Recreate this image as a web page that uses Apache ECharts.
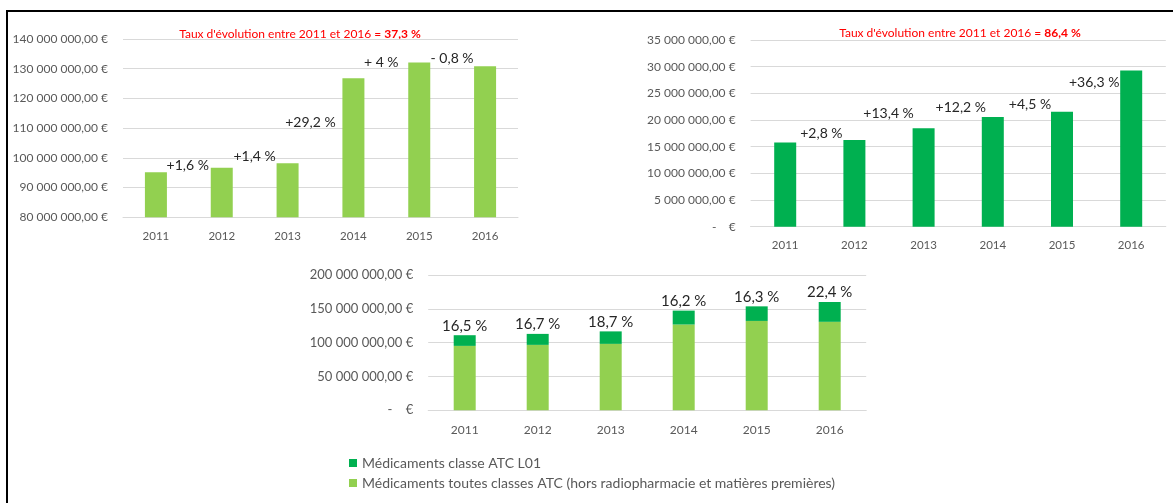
<!DOCTYPE html>
<html lang="fr">
<head>
<meta charset="utf-8">
<title>Médicaments 2011-2016</title>
<script src="https://cdn.jsdelivr.net/npm/echarts@6/dist/echarts.min.js"></script>
<style>
    html, body { margin: 0; padding: 0; background: #fff; overflow: hidden; }
    #chart { width: 1173px; height: 503px; }
    /* cadre noir en haut et à gauche, comme la capture */
    #cadre {
        position: absolute; left: 6px; top: 10px;
        width: 1167px; height: 493px; box-sizing: border-box;
        border-top: 2px solid #000; border-left: 2px solid #000;
        pointer-events: none;
    }
</style>
</head>
<body>
<div id="chart"></div>
<div id="cadre"></div>
<script>
// ==========================================
// Données
// ==========================================
var annees = ['2011', '2012', '2013', '2014', '2015', '2016'];
// Médicaments toutes classes ATC (hors radiopharmacie et matières premières), en €
var toutesClasses = [95200000, 96700000, 98200000, 126800000, 132100000, 130800000];
// Médicaments classe ATC L01, en €
var classeL01 = [15800000, 16250000, 18450000, 20570000, 21560000, 29300000];
// taux d'évolution d'une année sur l'autre
var evolToutes = ['', '+1,6 %', '+1,4 %', '+29,2 %', '+ 4 %', '- 0,8 %'];
var evolL01 = ['', '+2,8 %', '+13,4 %', '+12,2 %', '+4,5 %', '+36,3 %'];
// part de L01
var partL01 = ['16,5 %', '16,7 %', '18,7 %', '16,2 %', '16,3 %', '22,4 %'];
var tauxToutes = '37,3 %';
var tauxL01 = '86,4 %';
// graduations : min, max, pas
var ticksToutes = [80000000, 140000000, 10000000];
var ticksL01 = [0, 35000000, 5000000];
var ticksTotal = [0, 200000000, 50000000];

// décalage manuel des étiquettes (placées à la main dans le classeur)
var decalToutes = [[0, 0], [-34, 5], [-33, 0], [-43, 51], [-38, 7], [-33, -1]];
var decalL01 = [[0, 0], [-33, 0], [-35, -8], [-32, -2], [-32, 0], [-37, 19]];

var nomL01 = 'Médicaments classe ATC L01';
var nomToutes = 'Médicaments toutes classes ATC (hors radiopharmacie et matières premières)';

var vertClair = '#92d050';
var vertFonce = '#00b050';
var police = 'Lato, "Open Sans", sans-serif';

function euros(v) {
    if (v === 0) return '-    €';
    return String(Math.round(v)).replace(/\B(?=(\d{3})+(?!\d))/g, ' ') + ',00 €';
}

function axeX(i, marge, taille) {
    return {
        type: 'category',
        gridIndex: i,
        data: annees,
        axisTick: { show: false },
        axisLine: { lineStyle: { color: '#d9d9d9' } },
        axisLabel: { color: '#595959', fontSize: taille, margin: marge, fontFamily: police }
    };
}

function axeY(i, ticks, taille) {
    return {
        type: 'value',
        gridIndex: i,
        min: ticks[0],
        max: ticks[1],
        interval: ticks[2],
        axisLabel: { color: '#595959', fontSize: taille, margin: 15, fontFamily: police, formatter: euros },
        splitLine: { lineStyle: { color: '#d9d9d9' } }
    };
}

function titre(x, y, taux) {
    return {
        type: 'text',
        x: x,
        y: y,
        style: {
            text: "Taux d'évolution entre 2011 et 2016 = {b|" + taux + '}',
            fill: '#ff0000',
            fontSize: 12,
            fontFamily: police,
            align: 'center',
            verticalAlign: 'middle',
            rich: {
                b: { fill: '#ff0000', fontSize: 12, fontWeight: 'bold', fontFamily: police }
            }
        }
    };
}

var chartDom = document.getElementById('chart');
var myChart = echarts.init(chartDom);
var option;

option = {
    animation: false,
    textStyle: { fontFamily: police },
    grid: [
        { left: 123, top: 39, width: 395, height: 178.3 },
        { left: 750.6, top: 40, width: 415.2, height: 186.7 },
        { left: 428.2, top: 275, width: 438, height: 135.3 }
    ],
    xAxis: [axeX(0, 13, 11.5), axeX(1, 12.5, 11.5), axeX(2, 14, 12)],
    yAxis: [axeY(0, ticksToutes, 12), axeY(1, ticksL01, 12), axeY(2, ticksTotal, 13)],
    graphic: [titre(300, 34, tauxToutes), titre(960, 33, tauxL01)],
    legend: {
        data: [nomL01, nomToutes],
        orient: 'vertical',
        left: 344,
        top: 451,
        icon: 'rect',
        itemWidth: 8,
        itemHeight: 8,
        itemGap: 6,
        textStyle: { color: '#595959', fontSize: 14, fontFamily: police }
    },
    series: [
        {
            // évolution toutes classes
            name: 'Toutes classes - évolution',
            type: 'bar',
            xAxisIndex: 0,
            yAxisIndex: 0,
            barWidth: 22,
            itemStyle: { color: vertClair },
            data: toutesClasses.map(function (v, i) {
                return { value: v, label: { offset: decalToutes[i] } };
            }),
            label: {
                show: true,
                position: 'top',
                distance: 0,
                fontSize: 14,
                color: '#262626',
                formatter: function (p) { return evolToutes[p.dataIndex]; }
            }
        },
        {
            // évolution classe L01
            name: 'L01 - évolution',
            type: 'bar',
            xAxisIndex: 1,
            yAxisIndex: 1,
            barWidth: 22,
            itemStyle: { color: vertFonce },
            data: classeL01.map(function (v, i) {
                return { value: v, label: { offset: decalL01[i] } };
            }),
            label: {
                show: true,
                position: 'top',
                distance: 0,
                fontSize: 14,
                color: '#262626',
                formatter: function (p) { return evolL01[p.dataIndex]; }
            }
        },
        {
            name: nomToutes,
            type: 'bar',
            stack: 'total',
            xAxisIndex: 2,
            yAxisIndex: 2,
            barWidth: 22,
            itemStyle: { color: vertClair },
            data: toutesClasses
        },
        {
            name: nomL01,
            type: 'bar',
            stack: 'total',
            xAxisIndex: 2,
            yAxisIndex: 2,
            barWidth: 22,
            itemStyle: { color: vertFonce },
            data: classeL01,
            label: {
                show: true,
                position: 'top',
                distance: 2,
                fontSize: 15,
                color: '#262626',
                formatter: function (p) { return partL01[p.dataIndex]; }
            }
        }
    ]
};

option && myChart.setOption(option);
</script>
</body>
</html>
